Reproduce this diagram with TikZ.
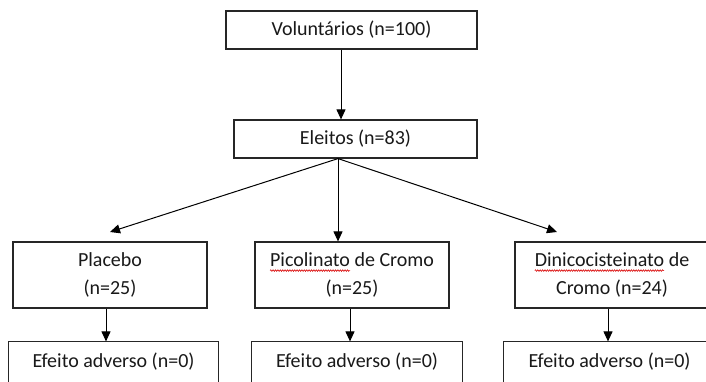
\documentclass[tikz,border=0pt]{standalone}
\usepackage{fontspec}
\setmainfont{Carlito}
\usetikzlibrary{arrows.meta,decorations.pathmorphing}
\newcommand\sqwave[1]{\setbox0\hbox{#1}\rlap{\copy0}\tikz[baseline=0pt]{\useasboundingbox (0pt,0pt) rectangle (\wd0,1pt);\draw[red!85!black,line width=0.6pt,decorate,decoration={zigzag,amplitude=0.8pt,segment length=2.4pt}] (0pt,-4pt) -- (\wd0,-4pt);}}
\begin{document}
\begin{tikzpicture}[x=1pt,y=-1pt,
  boxline/.style={draw=black!85,line width=1.2pt},
  box/.style={boxline,align=center,inner sep=0pt,text=black!90,font=\fontsize{20}{28}\selectfont},
  openbox/.style={box,draw=none},
  arr/.style={draw=black,line width=1pt,-{Triangle[length=10pt,width=9pt]}}]
\useasboundingbox (0,0) rectangle (706,382);
\clip (0,0) rectangle (706,382);
\fill[white] (0,0) rectangle (706,382);
% boxes
\node[box,minimum width=251pt,minimum height=38pt] (vol) at (351.5,30) {Voluntários (n=100)};
\node[box,minimum width=243pt,minimum height=38pt] (ele) at (355.5,139) {Eleitos (n=83)};
\node[box,minimum width=194pt,minimum height=66pt] (pla) at (110,275) {Placebo\\(n=25)};
\node[box,minimum width=194pt,minimum height=66pt] (pic) at (352,275) {\sqwave{Picolinato} de Cromo\\(n=25)};
\node[box,minimum width=194pt,minimum height=66pt] (din) at (612,275) {\sqwave{Dinicocisteinato} de\\Cromo (n=24)};
\node[openbox,minimum width=209pt,minimum height=40pt] (e1) at (113.5,362) {Efeito adverso (n=0)};
\node[openbox,minimum width=210pt,minimum height=40pt] (e2) at (357,362) {Efeito adverso (n=0)};
\node[openbox,minimum width=211pt,minimum height=40pt] (e3) at (609.5,362) {Efeito adverso (n=0)};
\draw[boxline] (e1.south west) -- (e1.north west) -- (e1.north east) -- (e1.south east);
\draw[boxline] (e2.south west) -- (e2.north west) -- (e2.north east) -- (e2.south east);
\draw[boxline] (e3.south west) -- (e3.north west) -- (e3.north east) -- (e3.south east);
% arrows
\coordinate (a1) at (341,0);
\coordinate (a2) at (338,0);
\coordinate (t1) at (110,232);
\coordinate (t3) at (557,232);
\draw[arr] (vol.south -| a1) -- (ele.north -| a1);
\draw[arr] (ele.south -| a2) -- (t1);
\draw[arr] (ele.south -| a2) -- (pic.north -| a2);
\draw[arr] (ele.south -| a2) -- (t3);
\coordinate (b1) at (106,0);
\coordinate (b2) at (350,0);
\coordinate (b3) at (608,0);
\draw[arr] (pla.south -| b1) -- (e1.north -| b1);
\draw[arr] (pic.south -| b2) -- (e2.north -| b2);
\draw[arr] (din.south -| b3) -- (e3.north -| b3);
\end{tikzpicture}
\end{document}
